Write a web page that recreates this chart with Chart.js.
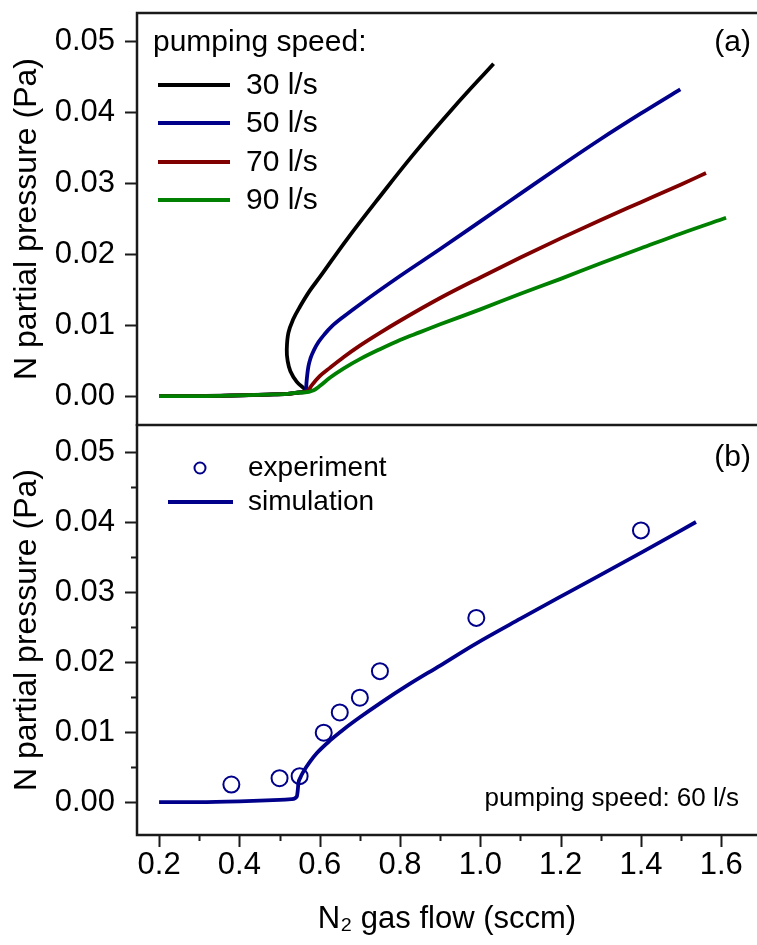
<!DOCTYPE html>
<html>
<head>
<meta charset="utf-8">
<script src="https://cdn.jsdelivr.net/npm/chart.js@4.4.1/dist/chart.umd.min.js"></script>
<style>
  html, body { margin: 0; padding: 0; background: #fff; overflow: hidden; }
  #wrapA { position: absolute; left: 0; top: 0; width: 757px; height: 426px; }
  #wrapB { position: absolute; left: 0; top: 424px; width: 757px; height: 521px; }
</style>
</head>
<body>
<div id="wrapA"><canvas id="chartA"></canvas></div>
<div id="wrapB"><canvas id="chartB"></canvas></div>
<script>
const FONT = "'Liberation Sans', Arial, sans-serif";

// flat low-flow part shared by all curves of panel (a)
const baseFlow = [0.2, 0.3, 0.4, 0.47, 0.52, 0.55];
const basePres = [0, 0, 0.0001, 0.0002, 0.0003, 0.0005];

// panel (a): pumping speed 30 l/s (turns back -> hysteresis)
const flow30 = [0.566, 0.543, 0.527, 0.52, 0.518, 0.522, 0.534, 0.551, 0.575, 0.601, 0.667, 0.75, 0.833, 0.933, 1.033];
const pres30 = [0.0007, 0.002, 0.0035, 0.005, 0.0065, 0.0089, 0.0108, 0.0126, 0.0148, 0.0168, 0.022, 0.0281, 0.034, 0.0406, 0.0468];
// 50 l/s
const flow50 = [0.566, 0.567, 0.569, 0.572, 0.577, 0.585, 0.597, 0.612, 0.63, 0.66, 0.7, 0.8, 0.9, 1.0, 1.1, 1.2, 1.3, 1.4, 1.498];
const pres50 = [0.0008, 0.0018, 0.003, 0.0042, 0.0053, 0.0064, 0.0076, 0.0087, 0.0098, 0.0112, 0.0129, 0.0169, 0.0207, 0.0246, 0.0285, 0.0324, 0.0362, 0.0398, 0.0432];
// 70 l/s
const flow70 = [0.57, 0.58, 0.6, 0.626, 0.66, 0.7, 0.75, 0.8, 0.9, 1.0, 1.1, 1.2, 1.3, 1.4, 1.5, 1.562];
const pres70 = [0.0007, 0.0015, 0.0028, 0.004, 0.0055, 0.0071, 0.0089, 0.0106, 0.0138, 0.0167, 0.0195, 0.0222, 0.0248, 0.0273, 0.0298, 0.0314];
// 90 l/s
const flow90 = [0.56, 0.585, 0.6, 0.626, 0.66, 0.7, 0.75, 0.8, 0.85, 0.9, 1.0, 1.1, 1.2, 1.3, 1.4, 1.5, 1.612];
const pres90 = [0.0005, 0.0008, 0.0014, 0.0026, 0.0039, 0.0052, 0.0066, 0.0079, 0.009, 0.0101, 0.0122, 0.0144, 0.0165, 0.0187, 0.0208, 0.0229, 0.0251];

// panel (b): 60 l/s
const expFlow = [0.38, 0.5, 0.55, 0.61, 0.65, 0.7, 0.75, 0.99, 1.4];
const expPres = [0.0025, 0.0034, 0.0037, 0.0099, 0.0128, 0.0149, 0.0187, 0.0263, 0.0388];
const simFlow = [0.2, 0.3, 0.4, 0.5, 0.53, 0.543, 0.545, 0.547, 0.552, 0.559, 0.575, 0.593, 0.626, 0.66, 0.7, 0.75, 0.825, 0.9, 0.985, 1.1, 1.224, 1.403, 1.537];
const simPres = [0, 0, 0.0001, 0.0003, 0.0004, 0.0008, 0.0015, 0.0027, 0.0035, 0.0043, 0.0057, 0.007, 0.0088, 0.0104, 0.0121, 0.0141, 0.0169, 0.0195, 0.0225, 0.0262, 0.0301, 0.0357, 0.04];

const speedLabels = ['30 l/s', '50 l/s', '70 l/s', '90 l/s'];
const speedColors = ['#000000', '#00008b', '#800000', '#008000'];

function pts(xs, ys) {
    return xs.map((x, i) => ({x: x, y: ys[i]}));
}
function withBase(xs, ys) {
    return pts(baseFlow.concat(xs), basePres.concat(ys));
}

// shared x scale: 0.2 at 159px, 1.6 at 721px
const X_MIN = 0.145, X_MAX = 1.689;

function isMajorX(v) { return Math.round(v * 10) % 2 === 0; }
function isMajorY(v) { return Math.round(v * 1000) % 10 === 0; }

// frame + tick marks
const frame = {
    id: 'frame',
    afterDraw(chart, args, opts) {
        const {ctx, chartArea: a, scales} = chart;
        ctx.save();
        ctx.strokeStyle = '#1a1a1a';
        ctx.lineWidth = 2.5;
        ctx.beginPath();
        ctx.moveTo(a.right + 2, a.top);
        ctx.lineTo(a.left, a.top);
        ctx.lineTo(a.left, a.bottom);
        ctx.lineTo(a.right + 2, a.bottom);
        ctx.stroke();
        ctx.lineWidth = 2;
        ctx.beginPath();
        scales.y.ticks.forEach((t) => {
            const py = Math.round(scales.y.getPixelForValue(t.value)) + 0.5;
            const len = isMajorY(t.value) ? 12 : 6;
            ctx.moveTo(a.left - len, py);
            ctx.lineTo(a.left, py);
        });
        if (opts.xTicks) {
            scales.x.ticks.forEach((t) => {
                const px = Math.round(scales.x.getPixelForValue(t.value)) + 0.5;
                const len = isMajorX(t.value) ? 12 : 6;
                ctx.moveTo(px, a.bottom);
                ctx.lineTo(px, a.bottom + len);
            });
        }
        ctx.stroke();
        ctx.restore();
    }
};

// legend of panel (a)
const legendA = {
    id: 'legendA',
    afterDraw(chart) {
        const ctx = chart.ctx;
        ctx.save();
        ctx.fillStyle = '#000';
        ctx.textBaseline = 'middle';
        ctx.font = '30px ' + FONT;
        ctx.textAlign = 'left';
        ctx.fillText('pumping speed:', 153, 43);
        ctx.textAlign = 'right';
        ctx.fillText('(a)', 751, 43);
        ctx.textAlign = 'left';
        const rows = [85, 123, 162, 200];
        chart.data.datasets.forEach((ds, i) => {
            ctx.strokeStyle = ds.borderColor;
            ctx.lineWidth = 4;
            ctx.beginPath();
            ctx.moveTo(158, rows[i]);
            ctx.lineTo(230, rows[i]);
            ctx.stroke();
            ctx.fillText(ds.label, 246, rows[i] + 1);
        });
        ctx.restore();
    }
};

// legend of panel (b); canvas B starts at page y = 424
const legendB = {
    id: 'legendB',
    afterDraw(chart) {
        const ctx = chart.ctx;
        const off = 424;
        const exp = chart.data.datasets[0], sim = chart.data.datasets[1];
        ctx.save();
        ctx.fillStyle = '#000';
        ctx.textBaseline = 'middle';
        ctx.font = '30px ' + FONT;
        ctx.textAlign = 'right';
        ctx.fillText('(b)', 751, 458 - off);
        ctx.font = '28px ' + FONT;
        ctx.textAlign = 'left';
        ctx.strokeStyle = exp.borderColor;
        ctx.lineWidth = 2;
        ctx.beginPath();
        ctx.arc(200, 468 - off, 5.5, 0, Math.PI * 2);
        ctx.stroke();
        ctx.fillText(exp.label, 248, 468 - off);
        ctx.strokeStyle = sim.borderColor;
        ctx.lineWidth = 4;
        ctx.beginPath();
        ctx.moveTo(168, 502 - off);
        ctx.lineTo(233, 502 - off);
        ctx.stroke();
        ctx.fillText(sim.label, 248, 502 - off);
        ctx.font = '26px ' + FONT;
        ctx.textAlign = 'right';
        ctx.fillText('pumping speed: 60 l/s', 739, 799 - off);
        ctx.restore();
    }
};

function yScale(min, max) {
    return {
        type: 'linear',
        min: min,
        max: max,
        afterFit: (s) => { s.width = 137; s.paddingTop = 0; s.paddingBottom = 0; },
        border: {display: false},
        grid: {display: false, drawTicks: false},
        ticks: {
            stepSize: 0.005,
            includeBounds: false,
            padding: 22,
            color: '#000',
            font: {size: 31, family: FONT},
            callback: (v) => isMajorY(v) ? v.toFixed(2) : ''
        },
        title: {
            display: true,
            text: 'N partial pressure (Pa)',
            color: '#000',
            font: {size: 32, family: FONT},
            padding: {top: 8, bottom: 0}
        }
    };
}

const fx = [flow30, flow50, flow70, flow90];
const fy = [pres30, pres50, pres70, pres90];

new Chart(document.getElementById('chartA'), {
    type: 'scatter',
    data: {
        datasets: speedLabels.map((lab, i) => ({
            label: lab,
            data: withBase(fx[i], fy[i]),
            showLine: true,
            borderColor: speedColors[i],
            borderWidth: 3.8,
            pointRadius: 0,
            tension: i === 0 ? 0.4 : 0,
            cubicInterpolationMode: i === 0 ? 'default' : 'monotone',
            order: 3 - i
        }))
    },
    options: {
        responsive: true,
        maintainAspectRatio: false,
        animation: false,
        layout: {autoPadding: false, padding: {top: 13, bottom: 1, left: 0, right: 0}},
        plugins: {legend: {display: false}, tooltip: {enabled: false}, frame: {xTicks: false}},
        scales: {
            x: {
                type: 'linear',
                min: X_MIN,
                max: X_MAX,
                afterFit: (s) => { s.height = 0; s.paddingLeft = 0; s.paddingRight = 0; },
                border: {display: false},
                grid: {display: false, drawTicks: false},
                ticks: {display: false}
            },
            y: yScale(-0.00408, 0.05394)
        }
    },
    plugins: [frame, legendA]
});

new Chart(document.getElementById('chartB'), {
    type: 'scatter',
    data: {
        datasets: [
            {
                label: 'experiment',
                data: pts(expFlow, expPres),
                showLine: false,
                borderColor: '#00008b',
                backgroundColor: 'rgba(0,0,0,0)',
                borderWidth: 2,
                pointRadius: 8,
                pointStyle: 'circle'
            },
            {
                label: 'simulation',
                data: pts(simFlow, simPres),
                showLine: true,
                borderColor: '#00008b',
                borderWidth: 3.8,
                pointRadius: 0,
                cubicInterpolationMode: 'monotone'
            }
        ]
    },
    options: {
        responsive: true,
        maintainAspectRatio: false,
        animation: false,
        layout: {autoPadding: false, padding: {top: 1, bottom: 0, left: 0, right: 0}},
        plugins: {legend: {display: false}, tooltip: {enabled: false}, frame: {xTicks: true}},
        scales: {
            x: {
                type: 'linear',
                min: X_MIN,
                max: X_MAX,
                afterFit: (s) => { s.height = 110; s.paddingLeft = 0; s.paddingRight = 0; },
                border: {display: false},
                grid: {display: false, drawTicks: true, tickLength: 12},
                ticks: {
                    stepSize: 0.1,
                    includeBounds: false,
                    maxRotation: 0,
                    autoSkip: false,
                    padding: 0,
                    color: '#000',
                    font: {size: 31, family: FONT},
                    callback: (v) => isMajorX(v) ? v.toFixed(1) : ''
                },
                title: {
                    display: true,
                    text: 'N\u2082 gas flow (sccm)',
                    color: '#000',
                    font: {size: 31, family: FONT},
                    padding: {top: 0, bottom: 7}
                }
            },
            y: yScale(-0.00471, 0.05386)
        }
    },
    plugins: [frame, legendB]
});
</script>
</body>
</html>
